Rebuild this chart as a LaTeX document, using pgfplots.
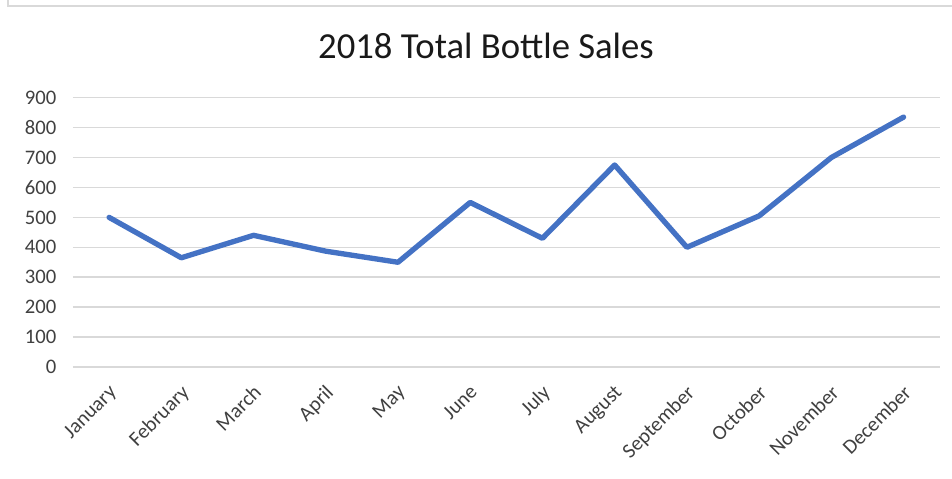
\documentclass[border=0pt]{standalone}
\usepackage{pgfplots}
\pgfplotsset{compat=1.18}
\usepackage{fontspec}
\setmainfont{Carlito}

\definecolor{lineblue}{HTML}{4472C4}
\definecolor{gridgray}{HTML}{D9D9D9}
\definecolor{textgray}{HTML}{404040}

\pgfplotstableread{
idx sales
0  500
1  365
2  440
3  387
4  350
5  550
6  430
7  675
8  400
9  505
10 700
11 835
}\sales

\begin{document}
\begin{tikzpicture}
% page = 952 x 478 px, 1 px = 0.75pt
\begin{scope}[x=0.75pt,y=0.75pt]
\path[use as bounding box] (0,0) rectangle (952,478);
\draw[gridgray, line width=1.2pt] (8,478) -- (8,472) -- (952,472);
\node[font=\fontsize{27.5}{30}\selectfont, text=black!90] at (486,432) {2018 Total Bottle Sales};
\end{scope}
\begin{axis}[
    at={(54.75pt,83.25pt)}, anchor=south west,
    scale only axis,
    width=650pt, height=202pt,
    xmin=-0.5, xmax=11.5,
    ymin=0, ymax=900,
    ytick={0,100,...,900},
    xtick={0,...,11},
    xticklabels={January,February,March,April,May,June,July,August,September,October,November,December},
    axis line style={draw=none},
    major tick length=0pt,
    ymajorgrids,
    grid style={gridgray, line width=1.1pt},
    tick label style={font=\fontsize{15.5}{17}\selectfont, text=textgray},
    /pgf/number format/assume math mode=true,
    yticklabel style={xshift=-9pt},
    xticklabel style={yshift=-11pt, xshift=-1pt, rotate=45, anchor=north east, inner sep=1pt},
    clip=false,
]
\addplot[lineblue, line width=4pt, line join=round, line cap=round] table[x=idx, y=sales] {\sales};
\end{axis}
\end{tikzpicture}
\end{document}
